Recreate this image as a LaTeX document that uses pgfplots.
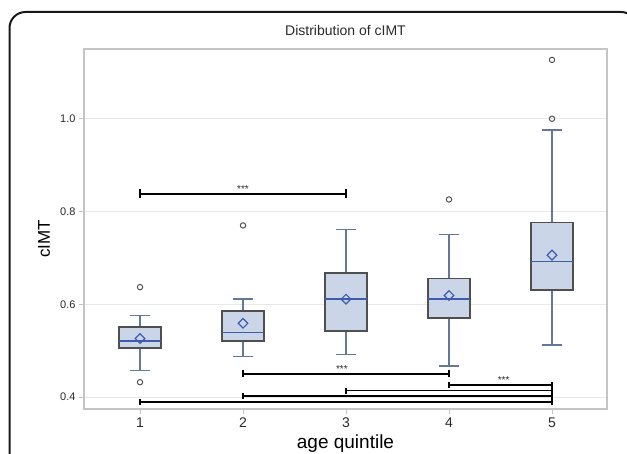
\documentclass[border=0pt]{standalone}
\usepackage{pgfplots}
\pgfplotsset{compat=1.18}
\usepgfplotslibrary{statistics}
\usepackage{fontspec}
\setmainfont{Liberation Sans}
\definecolor{boxfill}{HTML}{CAD5E7}
\definecolor{boxedge}{HTML}{4F4F4F}
\definecolor{whisk}{HTML}{627A98}
\definecolor{medblue}{HTML}{3D5CB0}
\definecolor{outl}{HTML}{505050}
\definecolor{gridc}{HTML}{E8E8E8}
\definecolor{axc}{HTML}{C4C4C4}
\definecolor{txt}{HTML}{2A2A2A}
\pgfplotsset{
  mybox/.style={
    boxplot/draw direction=y,
    boxplot/box extend=0.41,
    boxplot/whisker extend=0.19,
    boxplot/every box/.style={draw=boxedge, fill=boxfill, line width=1.6pt},
    boxplot/every whisker/.style={draw=whisk, line width=1.4pt},
    boxplot/every median/.style={draw=medblue, line width=1.4pt},
  },
  sig/.style={black, line width=1.8pt, mark=|, mark size=3pt, mark options={line width=1.8pt}},
}
\begin{document}
\begin{tikzpicture}[x=1pt,y=1pt]
\useasboundingbox (0,0) rectangle (627,454);
\draw[line width=2pt, rounded corners=16pt, color=black!90] (9.5,442) rectangle (637,-40);
\begin{axis}[
  at={(84pt,45pt)}, anchor=south west,
  width=523pt, height=360pt, scale only axis,
  xmin=0.456, xmax=5.534, ymin=0.3742, ymax=1.1505,
  xtick={1,2,3,4,5}, ytick={0.4,0.6,0.8,1.0},
  yticklabel style={/pgf/number format/.cd, fixed, fixed zerofill, precision=1, /tikz/.cd, font=\fontsize{11}{12}\selectfont, text=txt},
  xticklabel style={font=\fontsize{14}{16}\selectfont, text=txt},
  /pgf/number format/assume math mode=true,
  tick align=outside, major tick length=5pt,
  xtick pos=left, ytick pos=left,
  tick style={color=axc, line width=0.8pt},
  axis line style={draw=axc, line width=1.2pt},
  ymajorgrids, grid style={draw=gridc, line width=0.9pt},
  title={Distribution of cIMT},
  title style={font=\fontsize{14}{16}\selectfont, text=txt, at={(0.5,1)}, anchor=center, yshift=13pt},
  xlabel={age quintile},
  xlabel style={font=\fontsize{19}{21}\selectfont, text=black, at={(0.5,0)}, anchor=base, yshift=-40pt},
  ylabel={cIMT},
  ylabel style={font=\fontsize{17}{19}\selectfont, text=black, at={(0,0.5)}, anchor=center, xshift=-10pt, yshift=40pt},
  clip=false,
]
% boxes
\addplot[mybox, boxplot prepared={draw position=1, lower whisker=0.457, lower quartile=0.506, median=0.521, upper quartile=0.551, upper whisker=0.576}] coordinates {};
\addplot[mybox, boxplot prepared={draw position=2, lower whisker=0.487, lower quartile=0.521, median=0.539, upper quartile=0.586, upper whisker=0.611}] coordinates {};
\addplot[mybox, boxplot prepared={draw position=3, lower whisker=0.492, lower quartile=0.542, median=0.611, upper quartile=0.667, upper whisker=0.761}] coordinates {};
\addplot[mybox, boxplot prepared={draw position=4, lower whisker=0.467, lower quartile=0.571, median=0.611, upper quartile=0.656, upper whisker=0.751}] coordinates {};
\addplot[mybox, boxplot prepared={draw position=5, lower whisker=0.512, lower quartile=0.631, median=0.692, upper quartile=0.776, upper whisker=0.976}] coordinates {};
% means
\addplot[only marks, mark=square, mark size=3.4pt, mark options={draw=medblue, line width=1.2pt, rotate=45}] coordinates {(1,0.526)(2,0.559)(3,0.611)(4,0.619)(5,0.706)};
% outliers
\addplot[only marks, mark=o, mark size=2.7pt, mark options={draw=outl, line width=1pt}] coordinates {(1,0.637)(1,0.432)(2,0.770)(4,0.826)(5,1.0)(5,1.127)};
% significance bars
\addplot[sig, mark size=4.5pt] coordinates {(1,0.838)(3,0.838)};
\addplot[sig, mark size=3.5pt] coordinates {(2,0.450)(4,0.450)};
\addplot[sig] coordinates {(4,0.426)(5,0.426)};
\addplot[sig] coordinates {(3,0.414)(5,0.414)};
\addplot[sig] coordinates {(2,0.402)(5,0.402)};
\addplot[sig] coordinates {(1,0.390)(5,0.390)};
\node[font=\fontsize{10}{10}\selectfont, text=txt, anchor=base] at (axis cs:2,0.838) [yshift=1pt] {***};
\node[font=\fontsize{10}{10}\selectfont, text=txt, anchor=base] at (axis cs:2.96,0.450) [yshift=1pt] {***};
\node[font=\fontsize{10}{10}\selectfont, text=txt, anchor=base] at (axis cs:4.53,0.426) [yshift=1pt] {***};
\end{axis}
\end{tikzpicture}
\end{document}
